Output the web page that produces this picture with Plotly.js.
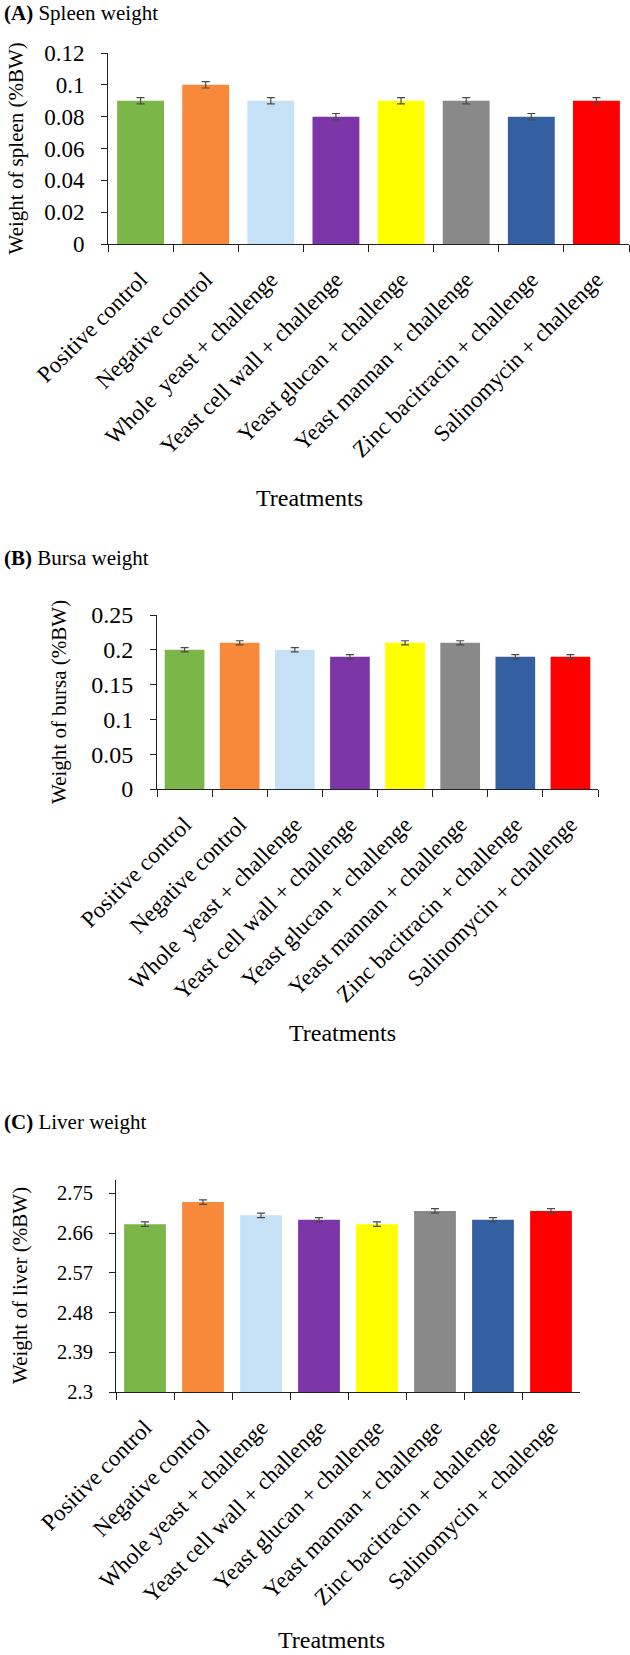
<!DOCTYPE html>
<html><head><meta charset="utf-8">
<script src="https://cdn.plot.ly/plotly-3.0.1.min.js"></script>
<style>html,body{margin:0;padding:0;background:#fff}</style>
</head><body><div id="chart" style="width:630px;height:1655px"></div>
<script>
// ---- data ----
const treatmentsAB = ["Positive control", "Negative control", "Whole  yeast + challenge", "Yeast cell wall + challenge", "Yeast glucan + challenge", "Yeast mannan + challenge", "Zinc bacitracin + challenge", "Salinomycin + challenge"];
const treatmentsC = ["Positive control", "Negative control", "Whole yeast + challenge", "Yeast cell wall + challenge", "Yeast glucan + challenge", "Yeast mannan + challenge", "Zinc bacitracin + challenge", "Salinomycin + challenge"];
const spleenValues = [0.09, 0.10, 0.09, 0.08, 0.09, 0.09, 0.08, 0.09];
const spleenErrors = [0.002, 0.002, 0.002, 0.002, 0.002, 0.002, 0.002, 0.002];
const bursaValues = [0.20, 0.21, 0.20, 0.19, 0.21, 0.21, 0.19, 0.19];
const bursaErrors = [0.003, 0.003, 0.003, 0.003, 0.003, 0.003, 0.003, 0.003];
const liverValues = [2.68, 2.73, 2.70, 2.69, 2.68, 2.71, 2.69, 2.71];
const liverErrors = [0.005, 0.005, 0.005, 0.005, 0.005, 0.005, 0.005, 0.005];
const liverTicks = [2.3, 2.39, 2.48, 2.57, 2.66, 2.75];
const liverTickText = ["2.3", "2.39", "2.48", "2.57", "2.66", "2.75"];
const barColors = ["#7AB648", "#F8893A", "#C6E1F6", "#7B35A7", "#FFFF00", "#898989", "#3460A2", "#FF0000"];

// ---- layout helpers ----
const W = 630, H = 1655;
const fx = x => x / W;
const fy = y => 1 - y / H;
const FONT = "'Liberation Serif', 'Times New Roman', serif";

const panels = [
  {id: "", cats: treatmentsAB, vals: spleenValues, errs: spleenErrors, x0: 108, x1: 629, yTop: 53, yBot: 244,
   range: [0, 0.12], dtick: 0.02, tickSize: 23, xTickSize: 23,
   label: "(A)", title: "Spleen weight", titleY: 13, yTitle: "Weight of spleen (%BW)", yTitleX: 15, trtX: 309, trtY: 498},
  {id: "2", cats: treatmentsAB, vals: bursaValues, errs: bursaErrors, x0: 157, x1: 598, yTop: 615, yBot: 789,
   range: [0, 0.25], dtick: 0.05, tickSize: 24, xTickSize: 23,
   label: "(B)", title: "Bursa weight", titleY: 558, yTitle: "Weight of bursa (%BW)", yTitleX: 59, trtX: 343, trtY: 1033},
  {id: "3", cats: treatmentsC, vals: liverValues, errs: liverErrors, x0: 116, x1: 580, yTop: 1180, yBot: 1392,
   range: [2.3, 2.78], tickvals: liverTicks, ticktext: liverTickText, tickSize: 20.5, xTickSize: 23,
   label: "(C)", title: "Liver weight", titleY: 1122, yTitle: "Weight of liver (%BW)", yTitleX: 20, trtX: 331, trtY: 1640}
];

const data = [];
const layout = {
  width: W, height: H, margin: {l: 0, r: 0, t: 0, b: 0},
  paper_bgcolor: "#fff", plot_bgcolor: "#fff", showlegend: false,
  font: {family: FONT, color: "#000"}, bargap: 0.28, annotations: []
};

panels.forEach(p => {
  data.push({
    type: "bar", x: p.cats, y: p.vals,
    xaxis: "x" + p.id, yaxis: "y" + p.id,
    marker: {color: barColors, line: {width: 0}},
    error_y: {type: "data", array: p.errs, visible: true, color: "#4a4a4a", thickness: 1.2, width: 4},
    hoverinfo: "x+y"
  });
  const xa = {
    domain: [fx(p.x0), fx(p.x1)], anchor: "y" + p.id, type: "category",
    range: [-0.5, 7.5], showline: true, linecolor: "#222", linewidth: 1,
    ticks: "outside", tickson: "boundaries", ticklen: 7, tickcolor: "#222",
    tickangle: -45, ticklabelstandoff: 12, tickfont: {family: FONT, size: p.xTickSize, color: "#000"},
    showgrid: false, zeroline: false, fixedrange: true, automargin: false
  };
  const ya = {
    domain: [fy(p.yBot), fy(p.yTop)], anchor: "x" + p.id,
    range: p.range, showline: true, linecolor: "#222", linewidth: 1,
    ticks: "outside", ticklen: 6, tickcolor: "#222", ticklabelstandoff: 12,
    tickfont: {family: FONT, size: p.tickSize, color: "#000"},
    showgrid: false, zeroline: false, fixedrange: true, automargin: false
  };
  if (p.tickvals) { ya.tickmode = "array"; ya.tickvals = p.tickvals; ya.ticktext = p.ticktext; }
  else { ya.tickmode = "linear"; ya.tick0 = 0; ya.dtick = p.dtick; }
  layout["xaxis" + p.id] = xa;
  layout["yaxis" + p.id] = ya;

  layout.annotations.push({
    xref: "paper", yref: "paper", x: fx(2), y: fy(p.titleY), xanchor: "left", yanchor: "middle",
    text: "<b>" + p.label + "</b> " + p.title, showarrow: false, font: {family: FONT, size: 21, color: "#000"}
  });
  layout.annotations.push({
    xref: "paper", yref: "paper", x: fx(p.yTitleX), y: fy((p.yTop + p.yBot) / 2), xanchor: "center", yanchor: "middle",
    text: p.yTitle, textangle: -90, showarrow: false, font: {family: FONT, size: 21, color: "#000"}
  });
  layout.annotations.push({
    xref: "paper", yref: "paper", x: fx(p.trtX), y: fy(p.trtY), xanchor: "center", yanchor: "middle",
    text: "Treatments", showarrow: false, font: {family: FONT, size: 24, color: "#000"}
  });
});

Plotly.newPlot("chart", data, layout, {displayModeBar: false, staticPlot: true});
</script>
</body></html>
